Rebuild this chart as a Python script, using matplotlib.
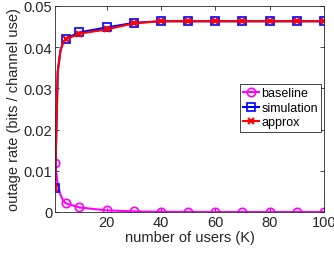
import numpy as np
import matplotlib
matplotlib.use('Agg')
import matplotlib.pyplot as plt

plt.rcParams['font.family'] = ['Liberation Sans', 'DejaVu Sans']

users = [1, 2, 3, 4, 5, 10, 20, 30, 40, 50, 60, 70, 80, 90, 100]
baseline = [0.012, 0.0068, 0.0042, 0.0028, 0.0021, 0.0011, 0.0004, 0.00015,
            0.00005, 0.00002, 0.0, 0.0, 0.0, 0.0, 0.0]
simulation = [0.0058, 0.034, 0.0392, 0.0412, 0.0421, 0.0436, 0.0448, 0.0459,
              0.0463, 0.0463, 0.0463, 0.0463, 0.0463, 0.0463, 0.0463]
approx = [0.0058, 0.034, 0.0391, 0.0411, 0.0419, 0.0433, 0.0443, 0.0458,
          0.0463, 0.0463, 0.0463, 0.0463, 0.0463, 0.0463, 0.0463]
marks = [0] + list(range(4, 15))

fig = plt.figure(figsize=(3.34, 2.55), dpi=100)
ax = fig.add_axes([55/334, 42/255, 269/334, 206/255])

ax.plot(users, baseline, color='#ff00ff', lw=1.5, marker='o', ms=6,
        mfc='none', mew=1.2, markevery=marks, label='baseline')
ax.plot(users, simulation, color='#0000ff', lw=1.5, marker='s', ms=5.5,
        mfc='none', mew=1.2, markevery=marks, label='simulation')
ax.plot(users, approx, color='#ff0000', lw=1.5, marker='x', ms=5,
        mew=1.5, markevery=marks, label='approx')

ax.set_xlim(1, 100)
ax.set_ylim(0, 0.05)
ax.set_xticks([20, 40, 60, 80, 100])
ax.set_yticks([0, 0.01, 0.02, 0.03, 0.04, 0.05])
ax.set_yticklabels(['0', '0.01', '0.02', '0.03', '0.04', '0.05'])
ax.tick_params(direction='in', top=True, right=True, labelsize=10.5,
               colors='#262626', length=3, width=0.6, pad=2)
for s in ax.spines.values():
    s.set_color('#262626')
    s.set_linewidth(0.6)
ax.set_xlabel('number of users (K)', fontsize=10.5, color='#262626', labelpad=1)
ax.set_ylabel('outage rate (bits / channel use)', fontsize=10.5, color='#262626',
              labelpad=2)

leg = ax.legend(loc='upper right', bbox_to_anchor=(0.99, 0.62), fontsize=9,
                handlelength=1.3, handletextpad=0.2, borderpad=0.25,
                labelspacing=0.2, fancybox=False, framealpha=1,
                borderaxespad=0.0)
leg.get_frame().set_edgecolor('#262626')
leg.get_frame().set_linewidth(0.6)

fig.savefig('out.png', dpi=100)
